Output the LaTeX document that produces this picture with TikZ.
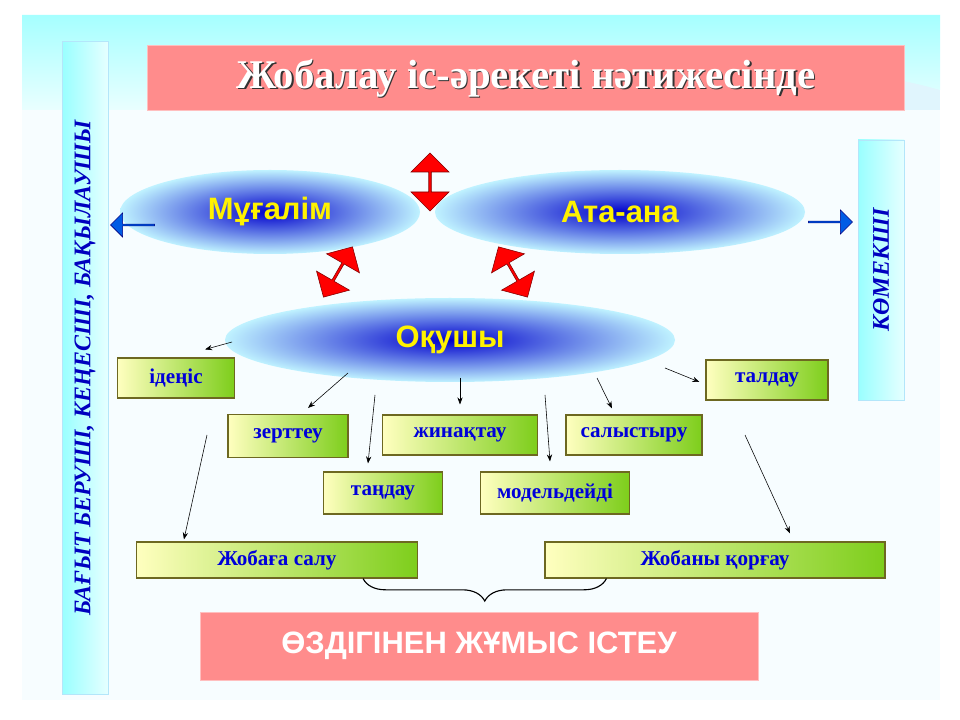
\documentclass[tikz,border=0pt]{standalone}
\usepackage{fontspec}
\setmainfont{Liberation Serif}
\setsansfont{Liberation Sans}
\usetikzlibrary{shapes.arrows,shapes.geometric,decorations.pathreplacing,calc,arrows.meta}
\begin{document}
\begin{tikzpicture}[x=0.025cm,y=-0.025cm,
    every node/.style={align=center},
    greenbox/.style={draw=olive!70!black, thick, left color=yellow!25!white, right color=olive!55!green!70, font=\bfseries\rmfamily\fontsize{15}{17}\selectfont, text=blue!85!black, inner sep=0pt},
    oval/.style={ellipse, inner sep=0pt, shading=radial, inner color=blue!80!black, outer color=blue!20!cyan!25!white, font=\bfseries\sffamily\fontsize{22}{24}\selectfont, text=yellow},
    pinkbox/.style={fill=red!45!white, draw=red!25!white, inner sep=0pt},
    sidebar/.style={left color=cyan!40!white, right color=cyan!10!white, draw=cyan!30!white, inner sep=0pt},
    redarrow/.style={double arrow, fill=red, draw=red!50!black, minimum width=0.95cm, minimum height=1.45cm, double arrow head extend=0.1cm, inner sep=0pt},
    bluearrow/.style={single arrow, fill=blue!60!cyan!90!black, draw=blue!50!black, minimum width=0.6cm, minimum height=1.1cm, single arrow head extend=0.1cm, inner sep=0pt},
    thin arrow/.style={draw, -{Stealth[length=5pt]}},
    ]
\useasboundingbox (0,0) rectangle (960,720);
% slide background
\fill[white] (0,0) rectangle (960,720);
\fill[cyan!12] (22,15) rectangle (940,700);
\shade[top color=cyan!35, bottom color=white] (22,15) -- (940,15) -- (940,90) .. controls (700,20) and (300,140) .. (22,120) -- cycle;
\fill[white!97!cyan] (22,110) rectangle (940,700);
% title and side bars
\node[pinkbox, minimum width=757*0.025cm, minimum height=65*0.025cm] (title) at (526,78) {};
\node[font=\bfseries\rmfamily\fontsize{29}{32}\selectfont, text=gray!40!black] at ($(title)+(1.5,1.5)$) {Жобалау іс-әрекеті нәтижесінде};
\node[font=\bfseries\rmfamily\fontsize{29}{32}\selectfont, text=white] (titletext) at (title) {Жобалау іс-әрекеті нәтижесінде};
\node[sidebar, minimum width=46*0.025cm, minimum height=653*0.025cm] (leftbar) at (85,368) {};
\node[rotate=90, font=\bfseries\itshape\rmfamily\fontsize{17}{19}\selectfont, text=blue!75!black] (lefttext) at (leftbar) {БАҒЫТ БЕРУШІ, КЕҢЕСШІ, БАҚЫЛАУШЫ};
\node[sidebar, minimum width=46*0.025cm, minimum height=260*0.025cm] (rightbar) at (881,270) {};
\node[rotate=90, font=\bfseries\itshape\rmfamily\fontsize{17}{19}\selectfont, text=blue!75!black] (righttext) at (rightbar) {КӨМЕКШІ};
% ovals
\node[oval, minimum width=300*0.025cm, minimum height=84*0.025cm] (mugalim) at (270,212) {Мұғалім};
\node[oval, minimum width=370*0.025cm, minimum height=84*0.025cm] (atana) at (620,212) {Ата-ана};
\node[oval, minimum width=450*0.025cm, minimum height=84*0.025cm] (okushy) at (450,340) {Оқушы};
\node[redarrow, rotate=90] (r1) at (430,182) {};
\node[redarrow, rotate=60] (r2) at (338,272) {};
\node[redarrow, rotate=120] (r3) at (513,272) {};
\node[bluearrow, rotate=180] (b1) at (133,225) {};
\node[bluearrow] (b2) at (830,222) {};
% green boxes
\node[greenbox, minimum width=117*0.025cm, minimum height=40*0.025cm] (idenis) at (176,378) {ідеңіс};
\node[greenbox, minimum width=120*0.025cm, minimum height=43*0.025cm] (zerttey) at (288,436) {зерттеу};
\node[greenbox, minimum width=155*0.025cm, minimum height=40*0.025cm] (zhinaktau) at (460,435) {жинақтау};
\node[greenbox, minimum width=136*0.025cm, minimum height=40*0.025cm] (salystyru) at (634,435) {салыстыру};
\node[greenbox, minimum width=122*0.025cm, minimum height=40*0.025cm] (taldau) at (767,380) {талдау};
\node[greenbox, minimum width=119*0.025cm, minimum height=42*0.025cm] (tandau) at (383,493) {таңдау};
\node[greenbox, minimum width=149*0.025cm, minimum height=42*0.025cm] (modeldeidi) at (555,493) {модельдейді};
\node[greenbox, minimum width=281*0.025cm, minimum height=36*0.025cm] (zhsalu) at (277,560) {Жобаға салу};
\node[greenbox, minimum width=340*0.025cm, minimum height=36*0.025cm] (zhkorgau) at (715,560) {Жобаны қорғау};
\node[pinkbox, minimum width=558*0.025cm, minimum height=68*0.025cm, font=\bfseries\sffamily\fontsize{22}{24}\selectfont, text=white] (ozdiginen) at (479,646) {ӨЗДІГІНЕН ЖҰМЫС ІСТЕУ};
% thin arrows
\coordinate (a1) at (232,342);
\coordinate (a2) at (348,373);
\coordinate (a3) at (460,378);
\coordinate (a4) at (597,378);
\coordinate (a5) at (665,368);
\coordinate (a6) at (375,395);
\coordinate (a7) at (545,395);
\coordinate (a8) at (207,435);
\coordinate (a9) at (745,435);
\draw[thin arrow] (a1) -- ($(idenis.north east)+(-30,-8)$);
\draw[thin arrow] (a2) -- ($(zerttey.north)+(20,-6)$);
\draw[thin arrow] (a3) -- ($(zhinaktau.north)+(0,-10)$);
\draw[thin arrow] (a4) -- ($(salystyru.north)+(-22,-6)$);
\draw[thin arrow] (a5) -- ($(taldau.west)+(-6,2)$);
\draw[thin arrow] (a6) -- ($(tandau.north)+(-15,-8)$);
\draw[thin arrow] (a7) -- ($(modeldeidi.north)+(-5,-10)$);
\draw[thin arrow] (a8) -- ($(zhsalu.north west)+(48,-2)$);
\draw[thin arrow] (a9) -- ($(zhkorgau.north)+(75,-8)$);
% brace
\draw[thick, decorate, decoration={brace, mirror, amplitude=16pt}] ($(zhsalu.south east)+(-55,0)$) -- ($(zhkorgau.south west)+(62,0)$);
\end{tikzpicture}
\end{document}
